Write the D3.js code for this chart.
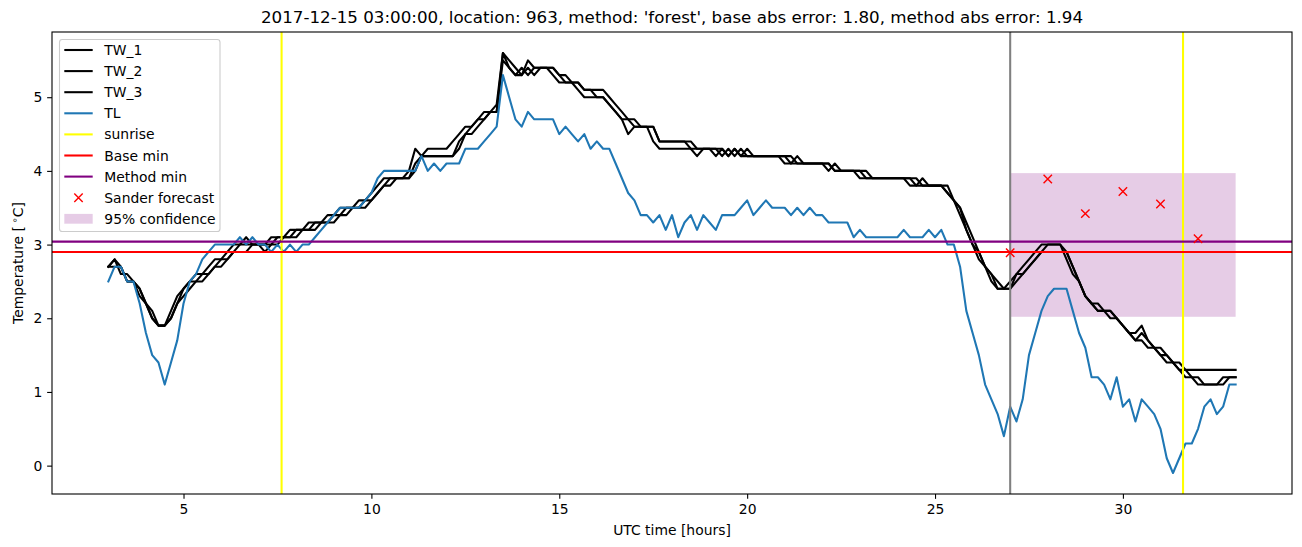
<!DOCTYPE html>
<html>
<head>
<meta charset="utf-8">
<script src="https://cdn.jsdelivr.net/npm/d3@7"></script>
<style>
  html, body { margin: 0; padding: 0; background: #fff; }
  svg { display: block; font-family: "DejaVu Sans", sans-serif; }
</style>
</head>
<body>
<svg id="chart" width="1302" height="547"></svg>
<script>
// ---------------- DATA ----------------
const titleText = "2017-12-15 03:00:00, location: 963, method: 'forest', base abs error: 1.80, method abs error: 1.94";
const startHour = 3;          // first sample, hours UTC
const stepMinutes = 10;       // sample spacing

// TL (air temperature), one value per 10 minutes from 03:00 to 33:00
const TL = [
  2.5, 2.7, 2.7, 2.5, 2.5, 2.2, 1.8, 1.5, 1.4, 1.1, 1.4, 1.7,
  2.2, 2.5, 2.6, 2.8, 2.9, 3.0, 3.0, 3.0, 3.0, 3.1, 3.0, 3.1,
  3.0, 3.0, 2.9, 3.0, 2.9, 3.0, 2.9, 3.0, 3.0, 3.1, 3.2, 3.3,
  3.4, 3.5, 3.5, 3.5, 3.5, 3.6, 3.7, 3.9, 4.0, 4.0, 4.0, 4.0,
  4.0, 4.0, 4.2, 4.0, 4.1, 4.0, 4.1, 4.1, 4.1, 4.3, 4.3, 4.3,
  4.4, 4.5, 4.6, 5.3, 5.0, 4.7, 4.6, 4.8, 4.7, 4.7, 4.7, 4.7,
  4.5, 4.6, 4.5, 4.4, 4.5, 4.3, 4.4, 4.3, 4.3, 4.1, 3.9, 3.7,
  3.6, 3.4, 3.4, 3.3, 3.4, 3.2, 3.4, 3.1, 3.3, 3.4, 3.2, 3.4,
  3.3, 3.2, 3.4, 3.4, 3.4, 3.5, 3.6, 3.4, 3.5, 3.6, 3.5, 3.5,
  3.5, 3.4, 3.5, 3.4, 3.5, 3.4, 3.4, 3.3, 3.3, 3.3, 3.3, 3.1,
  3.2, 3.1, 3.1, 3.1, 3.1, 3.1, 3.1, 3.2, 3.1, 3.1, 3.1, 3.2,
  3.1, 3.2, 3.0, 3.0, 2.7, 2.1, 1.8, 1.5, 1.1, 0.9, 0.7, 0.4,
  0.8, 0.6, 0.9, 1.5, 1.8, 2.1, 2.3, 2.4, 2.4, 2.4, 2.1, 1.8,
  1.6, 1.2, 1.2, 1.1, 0.9, 1.2, 0.8, 0.9, 0.6, 0.9, 0.8, 0.7,
  0.5, 0.1, -0.1, 0.1, 0.3, 0.3, 0.5, 0.8, 0.9, 0.7, 0.8, 1.1,
  1.1
];

const TW_1 = [
  2.7, 2.8, 2.6, 2.6, 2.5, 2.4, 2.2, 2.0, 1.9, 1.9, 2.1, 2.3,
  2.4, 2.5, 2.6, 2.6, 2.7, 2.8, 2.8, 2.9, 3.0, 3.0, 3.1, 3.0,
  3.0, 3.0, 3.1, 3.1, 3.1, 3.2, 3.2, 3.2, 3.3, 3.3, 3.3, 3.4,
  3.4, 3.5, 3.5, 3.5, 3.6, 3.6, 3.7, 3.8, 3.9, 3.9, 3.9, 3.9,
  4.0, 4.3, 4.2, 4.3, 4.3, 4.3, 4.3, 4.4, 4.5, 4.6, 4.6, 4.7,
  4.8, 4.8, 4.9, 5.6, 5.4, 5.3, 5.3, 5.5, 5.4, 5.4, 5.4, 5.3,
  5.2, 5.2, 5.2, 5.1, 5.0, 5.0, 5.0, 5.0, 4.9, 4.8, 4.7, 4.5,
  4.6, 4.6, 4.6, 4.4, 4.3, 4.3, 4.3, 4.3, 4.3, 4.3, 4.2, 4.3,
  4.3, 4.2, 4.3, 4.2, 4.3, 4.2, 4.2, 4.2, 4.2, 4.2, 4.2, 4.2,
  4.1, 4.1, 4.1, 4.1, 4.1, 4.1, 4.1, 4.0, 4.1, 4.0, 4.0, 4.0,
  3.9, 3.9, 3.9, 3.9, 3.9, 3.9, 3.9, 3.9, 3.8, 3.8, 3.9, 3.8,
  3.8, 3.8, 3.7, 3.6, 3.4, 3.2, 3.0, 2.8, 2.7, 2.5, 2.4, 2.4,
  2.5, 2.6, 2.7, 2.8, 2.9, 3.0, 3.0, 3.0, 3.0, 2.8, 2.6, 2.5,
  2.3, 2.2, 2.1, 2.1, 2.0, 2.0, 1.9, 1.8, 1.7, 1.8, 1.7, 1.6,
  1.5, 1.5, 1.4, 1.3, 1.3, 1.3, 1.3, 1.3, 1.3, 1.3, 1.3, 1.3,
  1.3
];

const TW_2 = [
  2.7, 2.7, 2.7, 2.5, 2.5, 2.4, 2.2, 2.1, 1.9, 1.9, 2.0, 2.2,
  2.4, 2.5, 2.5, 2.6, 2.6, 2.7, 2.8, 2.8, 2.9, 3.0, 3.0, 3.0,
  3.0, 3.0, 3.0, 3.1, 3.1, 3.1, 3.2, 3.2, 3.2, 3.3, 3.3, 3.3,
  3.4, 3.4, 3.5, 3.5, 3.5, 3.6, 3.6, 3.7, 3.8, 3.9, 3.9, 3.9,
  3.9, 4.1, 4.2, 4.2, 4.2, 4.2, 4.2, 4.2, 4.4, 4.5, 4.6, 4.7,
  4.7, 4.8, 4.8, 5.6, 5.5, 5.4, 5.3, 5.4, 5.3, 5.4, 5.4, 5.4,
  5.3, 5.2, 5.2, 5.2, 5.1, 5.1, 5.0, 5.0, 4.9, 4.8, 4.7, 4.7,
  4.6, 4.6, 4.6, 4.6, 4.4, 4.4, 4.4, 4.4, 4.4, 4.3, 4.3, 4.3,
  4.3, 4.3, 4.2, 4.3, 4.2, 4.3, 4.2, 4.2, 4.2, 4.2, 4.2, 4.2,
  4.2, 4.2, 4.1, 4.1, 4.1, 4.1, 4.1, 4.1, 4.0, 4.0, 4.0, 4.0,
  4.0, 3.9, 3.9, 3.9, 3.9, 3.9, 3.9, 3.9, 3.9, 3.8, 3.8, 3.8,
  3.8, 3.8, 3.7, 3.6, 3.5, 3.2, 3.0, 2.9, 2.7, 2.6, 2.4, 2.4,
  2.4, 2.6, 2.6, 2.7, 2.8, 2.9, 3.0, 3.0, 3.0, 2.9, 2.7, 2.5,
  2.3, 2.2, 2.1, 2.1, 2.1, 2.0, 1.9, 1.8, 1.8, 1.9, 1.7, 1.6,
  1.6, 1.5, 1.4, 1.4, 1.3, 1.2, 1.1, 1.1, 1.1, 1.1, 1.2, 1.2,
  1.2
];

const TW_3 = [
  2.7, 2.8, 2.7, 2.5, 2.5, 2.3, 2.2, 2.0, 1.9, 1.9, 2.0, 2.2,
  2.3, 2.4, 2.5, 2.5, 2.6, 2.7, 2.7, 2.8, 2.9, 2.9, 2.9, 3.0,
  3.0, 2.9, 3.0, 3.0, 3.1, 3.1, 3.1, 3.2, 3.2, 3.2, 3.3, 3.3,
  3.3, 3.4, 3.4, 3.5, 3.5, 3.5, 3.6, 3.7, 3.8, 3.8, 3.9, 3.9,
  3.9, 4.0, 4.2, 4.2, 4.2, 4.2, 4.2, 4.2, 4.3, 4.5, 4.5, 4.6,
  4.7, 4.8, 4.8, 5.5, 5.4, 5.3, 5.4, 5.3, 5.4, 5.4, 5.4, 5.4,
  5.3, 5.3, 5.2, 5.2, 5.1, 5.1, 5.1, 5.1, 5.0, 4.9, 4.8, 4.7,
  4.7, 4.6, 4.6, 4.6, 4.4, 4.4, 4.4, 4.4, 4.4, 4.4, 4.3, 4.3,
  4.3, 4.3, 4.3, 4.2, 4.3, 4.2, 4.3, 4.2, 4.2, 4.2, 4.2, 4.2,
  4.2, 4.1, 4.2, 4.1, 4.1, 4.1, 4.1, 4.1, 4.0, 4.0, 4.0, 4.0,
  4.0, 4.0, 3.9, 3.9, 3.9, 3.9, 3.9, 3.9, 3.9, 3.9, 3.8, 3.8,
  3.8, 3.8, 3.8, 3.6, 3.5, 3.3, 3.1, 2.9, 2.7, 2.6, 2.5, 2.4,
  2.4, 2.5, 2.6, 2.7, 2.8, 2.9, 2.9, 2.9, 2.9, 2.9, 2.7, 2.5,
  2.3, 2.2, 2.2, 2.1, 2.1, 2.0, 1.9, 1.8, 1.7, 1.7, 1.6, 1.6,
  1.5, 1.4, 1.4, 1.3, 1.2, 1.2, 1.2, 1.1, 1.1, 1.1, 1.1, 1.2,
  1.2
];

const sunriseHours = [7.61, 31.60];
const forecastStartHour = 27.0;
const baseMin = 2.90;
const methodMin = 3.04;
const forecastHours = [27, 28, 29, 30, 31, 32];
const forecastValues = [2.89, 3.89, 3.42, 3.72, 3.55, 3.08];
const confidenceHours = [27, 33];
const confidenceRange = [2.02, 3.97];
const xTicks = [5, 10, 15, 20, 25, 30];
const yTicks = [0, 1, 2, 3, 4, 5];

// ---------------- LAYOUT ----------------
const svg = d3.select("#chart");
const M = { left: 52, right: 1292, top: 32, bottom: 494 };

const hours = TL.map((_, i) => startHour + i * stepMinutes / 60);

const xExt = d3.extent(hours);
const xPad = (xExt[1] - xExt[0]) * 0.05;
const x = d3.scaleLinear().domain([xExt[0] - xPad, xExt[1] + xPad]).range([M.left, M.right]);

const allY = TL.concat(TW_1, TW_2, TW_3);
const yExt = d3.extent(allY);
const yPad = (yExt[1] - yExt[0]) * 0.05;
const y = d3.scaleLinear().domain([yExt[0] - yPad, yExt[1] + yPad]).range([M.bottom, M.top]);

const LW = 2.08;

svg.append("defs").append("clipPath").attr("id", "plotclip")
  .append("rect").attr("x", M.left).attr("y", M.top)
  .attr("width", M.right - M.left).attr("height", M.bottom - M.top);

const plot = svg.append("g").attr("clip-path", "url(#plotclip)");

// confidence band (patch, drawn below lines)
plot.append("rect")
  .attr("x", x(confidenceHours[0]))
  .attr("y", y(confidenceRange[1]))
  .attr("width", x(confidenceHours[1]) - x(confidenceHours[0]))
  .attr("height", y(confidenceRange[0]) - y(confidenceRange[1]))
  .attr("fill", "purple").attr("fill-opacity", 0.2);

const line = d3.line().x((d, i) => x(hours[i])).y(d => y(d));

[TW_1, TW_2, TW_3].forEach(s => {
  plot.append("path").attr("d", line(s)).attr("fill", "none")
    .attr("stroke", "black").attr("stroke-width", LW)
    .attr("stroke-linejoin", "round").attr("stroke-linecap", "square");
});
plot.append("path").attr("d", line(TL)).attr("fill", "none")
  .attr("stroke", "#1f77b4").attr("stroke-width", LW)
  .attr("stroke-linejoin", "round").attr("stroke-linecap", "square");

sunriseHours.forEach(h => {
  plot.append("line").attr("x1", x(h)).attr("x2", x(h))
    .attr("y1", M.top).attr("y2", M.bottom)
    .attr("stroke", "yellow").attr("stroke-width", LW);
});

plot.append("line").attr("x1", x(forecastStartHour)).attr("x2", x(forecastStartHour))
  .attr("y1", M.top).attr("y2", M.bottom)
  .attr("stroke", "gray").attr("stroke-width", LW);

plot.append("line").attr("x1", M.left).attr("x2", M.right)
  .attr("y1", y(baseMin)).attr("y2", y(baseMin))
  .attr("stroke", "red").attr("stroke-width", LW);
plot.append("line").attr("x1", M.left).attr("x2", M.right)
  .attr("y1", y(methodMin)).attr("y2", y(methodMin))
  .attr("stroke", "purple").attr("stroke-width", LW);

function xMarker(g, cx, cy, r) {
  g.append("path")
    .attr("d", `M${cx - r},${cy - r}L${cx + r},${cy + r}M${cx - r},${cy + r}L${cx + r},${cy - r}`)
    .attr("stroke", "red").attr("stroke-width", 1.4).attr("fill", "none");
}
forecastHours.forEach((h, i) => xMarker(plot, x(h), y(forecastValues[i]), 4.2));

// ---------------- AXES ----------------
const tickLen = 4.86;
const axes = svg.append("g");
axes.append("rect").attr("x", M.left).attr("y", M.top)
  .attr("width", M.right - M.left).attr("height", M.bottom - M.top)
  .attr("fill", "none").attr("stroke", "black").attr("stroke-width", 1.1);

const xAxis = d3.axisBottom(x).tickValues(xTicks).tickSize(tickLen).tickPadding(4.9).tickFormat(d3.format("d"));
const gx = axes.append("g").attr("transform", `translate(0,${M.bottom})`).call(xAxis);
const yAxis = d3.axisLeft(y).tickValues(yTicks).tickSize(tickLen).tickPadding(4.9).tickFormat(d3.format("d"));
const gy = axes.append("g").attr("transform", `translate(${M.left},0)`).call(yAxis);
[gx, gy].forEach(g => {
  g.select(".domain").remove();
  g.selectAll(".tick line").attr("stroke", "black").attr("stroke-width", 1.1);
  g.selectAll(".tick text").attr("fill", "black")
    .style("font-family", "DejaVu Sans").style("font-size", "13.9px");
});

svg.append("text").attr("x", (M.left + M.right) / 2).attr("y", 535)
  .attr("text-anchor", "middle").style("font-size", "13.9px").attr("fill", "black")
  .text("UTC time [hours]");

const yl = svg.append("text")
  .attr("transform", `translate(23,${(M.top + M.bottom) / 2}) rotate(-90)`)
  .attr("text-anchor", "middle").style("font-size", "13.9px").attr("fill", "black");
yl.append("tspan").text("Temperature [\u2009");
yl.append("tspan").attr("dy", -5).style("font-size", "9.7px").text("\u2218");
yl.append("tspan").attr("dy", 5).text("C]");

svg.append("text").attr("x", (M.left + M.right) / 2).attr("y", 23.3)
  .attr("text-anchor", "middle").style("font-size", "16.7px").attr("fill", "black")
  .text(titleText);

// ---------------- LEGEND ----------------
const legendItems = [
  { label: "TW_1", type: "line", color: "black" },
  { label: "TW_2", type: "line", color: "black" },
  { label: "TW_3", type: "line", color: "black" },
  { label: "TL", type: "line", color: "#1f77b4" },
  { label: "sunrise", type: "line", color: "yellow" },
  { label: "Base min", type: "line", color: "red" },
  { label: "Method min", type: "line", color: "purple" },
  { label: "Sander forecast", type: "marker", color: "red" },
  { label: "95% confidence", type: "patch", color: "purple" }
];
const lg = svg.append("g");
lg.append("rect").attr("x", 59.5).attr("y", 39.5).attr("width", 160.5).attr("height", 192)
  .attr("rx", 2.8).attr("fill", "white").attr("fill-opacity", 0.8)
  .attr("stroke", "#cccccc").attr("stroke-width", 1.1);
legendItems.forEach((it, i) => {
  const cy = 50 + i * 21.1;
  if (it.type === "line") {
    lg.append("line").attr("x1", 64.3).attr("x2", 92.7).attr("y1", cy).attr("y2", cy)
      .attr("stroke", it.color).attr("stroke-width", LW);
  } else if (it.type === "marker") {
    xMarker(lg, 78.5, cy, 4.2);
  } else {
    lg.append("rect").attr("x", 64.3).attr("y", cy - 4.9).attr("width", 28.4).attr("height", 9.8)
      .attr("fill", it.color).attr("fill-opacity", 0.2);
  }
  lg.append("text").attr("x", 104.3).attr("y", cy + 5).style("font-size", "13.9px")
    .attr("fill", "black").text(it.label);
});
</script>
</body>
</html>
